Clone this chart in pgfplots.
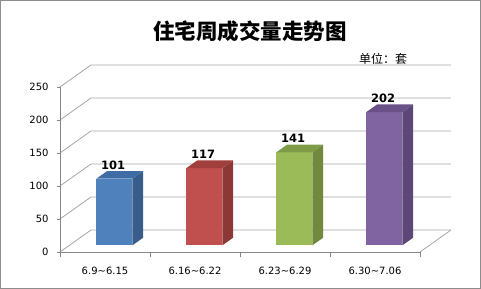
\documentclass[border=0pt]{standalone}
\usepackage{fontspec}
\setmainfont{DejaVu Sans}
\newfontfamily\cjk{Noto Sans CJK SC}
\usepackage{pgfplots}
\pgfplotsset{compat=1.18}
\usepackage{pgfplotstable}

\definecolor{c1}{HTML}{4F81BD}\definecolor{c1s}{HTML}{385D8A}\definecolor{c1t}{HTML}{3F6CA5}
\definecolor{c2}{HTML}{C0504D}\definecolor{c2s}{HTML}{8C3836}\definecolor{c2t}{HTML}{A03F3C}
\definecolor{c3}{HTML}{9BBB59}\definecolor{c3s}{HTML}{71893F}\definecolor{c3t}{HTML}{7F9B48}
\definecolor{c4}{HTML}{8064A2}\definecolor{c4s}{HTML}{5C4776}\definecolor{c4t}{HTML}{6A5288}
\definecolor{gridc}{HTML}{A6A6A6}
\definecolor{axc}{HTML}{868686}
\definecolor{framec}{HTML}{8C8C8C}

\pgfplotstableread{
x v
0.5 101
1.5 117
2.5 141
3.5 202
}\data

\newcommand{\dX}{0.344}
\newcommand{\dY}{33.3}
\newcommand{\threedbar}[5]{%
  \pgfmathsetmacro\xl{#1+0.3*\dX-0.2}%
  \pgfmathsetmacro\xr{#1+0.3*\dX+0.2}%
  \pgfmathsetmacro\yb{0.3*\dY}%
  \pgfmathsetmacro\yt{0.3*\dY+#2}%
  \pgfmathsetmacro\xo{\xr+0.35*\dX}%
  \pgfmathsetmacro\xlo{\xl+0.35*\dX}%
  \pgfmathsetmacro\ybo{\yb+0.35*\dY}%
  \pgfmathsetmacro\yto{\yt+0.35*\dY}%
  \addplot[fill=#3, draw=none] coordinates {(\xl,\yb) (\xr,\yb) (\xr,\yt) (\xl,\yt)};
  \addplot[fill=#4, draw=none] coordinates {(\xr,\yb) (\xo,\ybo) (\xo,\yto) (\xr,\yt)};
  \addplot[fill=#5, draw=none] coordinates {(\xl,\yt) (\xr,\yt) (\xo,\yto) (\xlo,\yto)};
}

\begin{document}
\begin{tikzpicture}
\path (0,0) rectangle (481bp,289bp);
\begin{axis}[
  anchor=origin, at={(60bp,37bp)},
  x=90bp, y=0.66bp,
  xmin=0, xmax=4.4, ymin=0, ymax=290,
  clip=false,
  axis line style={draw=none},
  tick pos=left, tick align=outside,
  major tick length=3bp,
  ytick={0,50,100,150,200,250},
  ytick style={axc, line width=0.8bp},
  xtick={0.5,1.5,2.5,3.5},
  xticklabels={6.9\textasciitilde 6.15, 6.16\textasciitilde 6.22, 6.23\textasciitilde 6.29, 6.30\textasciitilde 7.06},
  xtick style={draw=none},
  tick label style={font=\fontsize{10bp}{12bp}\selectfont, text=black},
  xticklabel style={yshift=-8.5bp},
  yticklabel style={xshift=-5bp},
  /pgf/number format/assume math mode=true,
]
% walls
\pgfplotsinvokeforeach{0,50,100,150,200,250}{
  \draw[gridc, line width=0.8bp] (axis cs:0,#1) -- (axis cs:\dX,#1+\dY) -- (axis cs:4+\dX,#1+\dY);
}
\draw[gridc, line width=0.8bp] (axis cs:4,0) -- (axis cs:4+\dX,\dY);
\draw[axc, line width=0.8bp] (axis cs:0,250) -- (axis cs:0,0) -- (axis cs:4,0);
\pgfplotsinvokeforeach{0,1,2,3,4}{
  \draw[axc, line width=0.8bp] (axis cs:#1,0) -- ++(0,-5bp);
}
% bars
\threedbar{0.5}{101}{c1}{c1s}{c1t}
\threedbar{1.5}{117}{c2}{c2s}{c2t}
\threedbar{2.5}{141}{c3}{c3s}{c3t}
\threedbar{3.5}{202}{c4}{c4s}{c4t}
% labels
\addplot[draw=none, nodes near coords, point meta=explicit,
  nodes near coords style={anchor=center, font=\bfseries\fontsize{11.5bp}{13bp}\selectfont, text=black}]
  table[x expr=\thisrow{x}+0.09, y expr=\thisrow{v}+31, meta=v] {\data};
\end{axis}
\node[font=\cjk\bfseries\fontsize{21.5bp}{24bp}\selectfont] at (250bp,258bp) {住宅周成交量走势图};
\node[font=\cjk\fontsize{12bp}{14bp}\selectfont] at (383bp,230bp) {单位：套};
\draw[framec, line width=1bp] (0.5bp,0.5bp) rectangle (480.5bp,288.5bp);
\end{tikzpicture}
\end{document}
